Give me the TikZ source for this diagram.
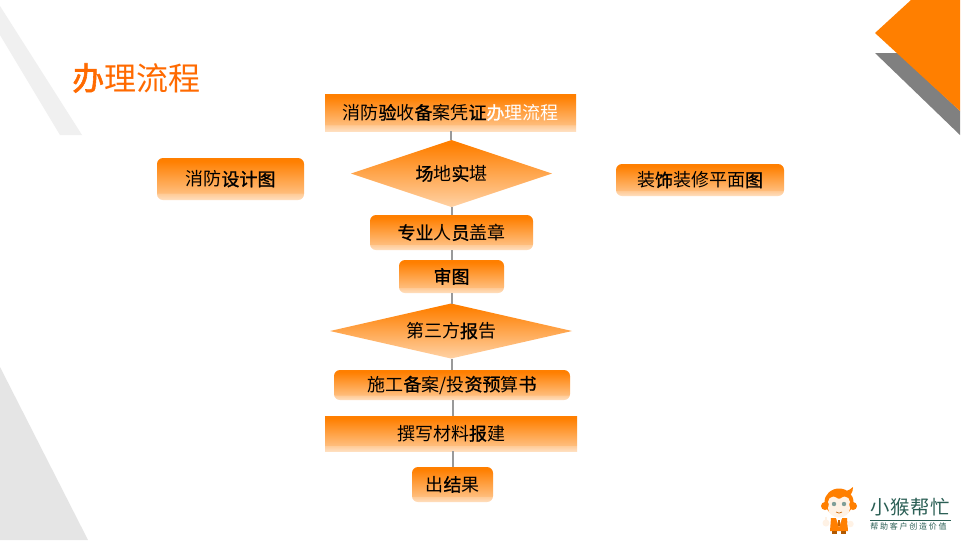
\documentclass[tikz,border=0pt]{standalone}
\usepackage{fontspec}
\setmainfont{Noto Sans CJK SC}
\newfontfamily\cb[FakeBold=1.0]{Noto Sans CJK SC}
\newfontfamily\cbt[FakeBold=1.8]{Noto Sans CJK SC}
\newfontfamily\logosub[LetterSpace=22]{Noto Sans CJK SC}
\newfontfamily\logomain[LetterSpace=3]{Noto Sans CJK SC}
\usetikzlibrary{shapes.geometric}
\newcommand\bb[1]{{\cb #1}}
\definecolor{ora}{HTML}{FF7F00}
\definecolor{titlec}{HTML}{FF6A00}
\definecolor{teal1}{HTML}{2B5F55}
\definecolor{linec}{HTML}{999999}
\pgfdeclareverticalshading{boxshade}{100bp}{
  color(0bp)=(ora!20!white); color(25bp)=(ora!25!white); color(33bp)=(ora!42!white);
  color(33.5bp)=(ora!52!white); color(70bp)=(ora!98!white); color(72bp)=(ora); color(100bp)=(ora)}
\pgfdeclareverticalshading{diashade}{100bp}{
  color(0bp)=(ora!35!white); color(25bp)=(ora!35!white); color(72bp)=(ora); color(100bp)=(ora)}
\tikzset{
  x=0.75pt,y=-0.75pt,
  basetext/.style={inner sep=0pt,outer sep=0pt,text=black,font=\fontsize{13.5pt}{16pt}\selectfont},
  sqbox/.style={basetext,rectangle,shading=boxshade},
  rdbox/.style={sqbox,rounded corners=4.5pt},
  dia/.style={basetext,diamond,shading=diashade},
  link/.style={draw=linec,line width=0.8pt}
}
\begin{document}
\begin{tikzpicture}
\useasboundingbox (0,0) rectangle (962,540);
\fill[white] (0,0) rectangle (962,540);
% decorations
\fill[gray!12] (0,6) -- (82,135) -- (60,135) -- (0,35) -- cycle;
\fill[gray!20] (0,367) -- (88,540) -- (0,540) -- cycle;
\fill[gray] (875,53) -- (898,53) -- (960,111) -- (960,135) -- cycle;
\fill[ora] (875,33) -- (911,0) -- (960,0) -- (960,111) -- cycle;
% title
\node[inner sep=0pt,anchor=west,text=titlec,font=\fontsize{24pt}{28pt}\selectfont] (title) at (72,78) {{\cbt 办}理流程};
% flow nodes
\node[sqbox,minimum width=188.25pt,minimum height=27.75pt] (n1) at (450.5,112.5)
  {消防\bb{验}收\bb{备}案凭\bb{证}\textcolor{white}{\bb{办}理流程}};
\node[dia,aspect=3,minimum width=150.75pt,minimum height=50.25pt] (n2) at (451.5,173.5) {\bb{场}地\bb{实}堪};
\node[rdbox,minimum width=122.25pt,minimum height=26.25pt] (n3) at (451.5,232.5) {\bb{专业}人\bb{员}盖章};
\node[rdbox,minimum width=78.75pt,minimum height=24.75pt] (n4) at (451.5,276.5) {\bb{审图}};
\node[dia,aspect=4.4,minimum width=181.5pt,minimum height=41.25pt] (n5) at (451,331) {第三方\bb{报}告};
\node[rdbox,minimum width=177pt,minimum height=22.5pt] (n6) at (452,385) {施工\bb{备}案/投\bb{资预}算\bb{书}};
\node[sqbox,minimum width=189pt,minimum height=26.25pt] (n7) at (451,433.5) {撰写材料\bb{报}建};
\node[rdbox,minimum width=60.75pt,minimum height=26.25pt] (n8) at (452.5,484.5) {出\bb{结}果};
\node[rdbox,minimum width=110.25pt,minimum height=31.5pt] (s1) at (230.5,179) {消防\bb{设计图}};
\node[rdbox,minimum width=126pt,minimum height=24pt] (s2) at (700,180) {装\bb{饰}装修平面\bb{图}};
% connector columns
\coordinate (xa) at (451,0);
\coordinate (xb) at (452,0);
\coordinate (xc) at (453,0);
\draw[link] (xa |- n1.south) -- (xa |- n2.north);
\draw[link] (xb |- n2.south) -- (xb |- n3.north);
\draw[link] (xb |- n3.south) -- (xb |- n4.north);
\draw[link] (xb |- n4.south) -- (xb |- n5.north);
\draw[link] (xb |- n5.south) -- (xb |- n6.north);
\draw[link] (xc |- n6.south) -- (xc |- n7.north);
\draw[link] (xc |- n7.south) -- (xc |- n8.north);
% logo monkey
\fill[ora] (825,506) circle (4);
\fill[ora] (853,506) circle (4);
\fill[ora] (839,502) ellipse (14.5 and 13.5);
\fill[ora] (838,492) .. controls (844,492) and (849,491) .. (853,487) .. controls (853,493) and (850,497) .. (845,497) -- cycle;
\fill[white!90!ora] (839,508) ellipse (11 and 9.5);
\fill[white!90!ora] (833.5,502) circle (5.5);
\fill[white!90!ora] (844.5,502) circle (5.5);
\fill[teal1!60!white] (834,504) circle (2.2);
\fill[teal1!60!white] (844,504) circle (2.2);
\draw[ora!80!black,line width=0.5pt] (836,512) .. controls (838,513.5) and (840,513.5) .. (842,512);
\fill[ora] (831,518) -- (847,518) -- (848,531) -- (830,531) -- cycle;
\fill[white] (836,518) -- (842,518) -- (839,527) -- cycle;
\fill[ora!80!black] (838.3,520) rectangle (839.7,526);
\fill[white!90!ora] (826,523) circle (3.5);
\fill[white!90!ora] (825,517) rectangle (827,522);
\fill[white!90!ora] (850.5,524) circle (3.2);
\fill[ora!70!black] (832,531) rectangle (837,534);
\fill[ora!70!black] (841,531) rectangle (846,534);
% logo text
\node[inner sep=0pt,anchor=west,text=teal1,font=\logomain\fontsize{14.5pt}{16pt}\selectfont] (logot) at (870,507.5) {小猴帮忙};
\draw[teal1,line width=0.75pt] (870,520.5) -- (951,520.5);
\node[inner sep=0pt,anchor=west,text=teal1,font=\logosub\fontsize{6pt}{8pt}\selectfont] (logos) at (870,526.5) {帮助客户创造价值};
\end{tikzpicture}
\end{document}
